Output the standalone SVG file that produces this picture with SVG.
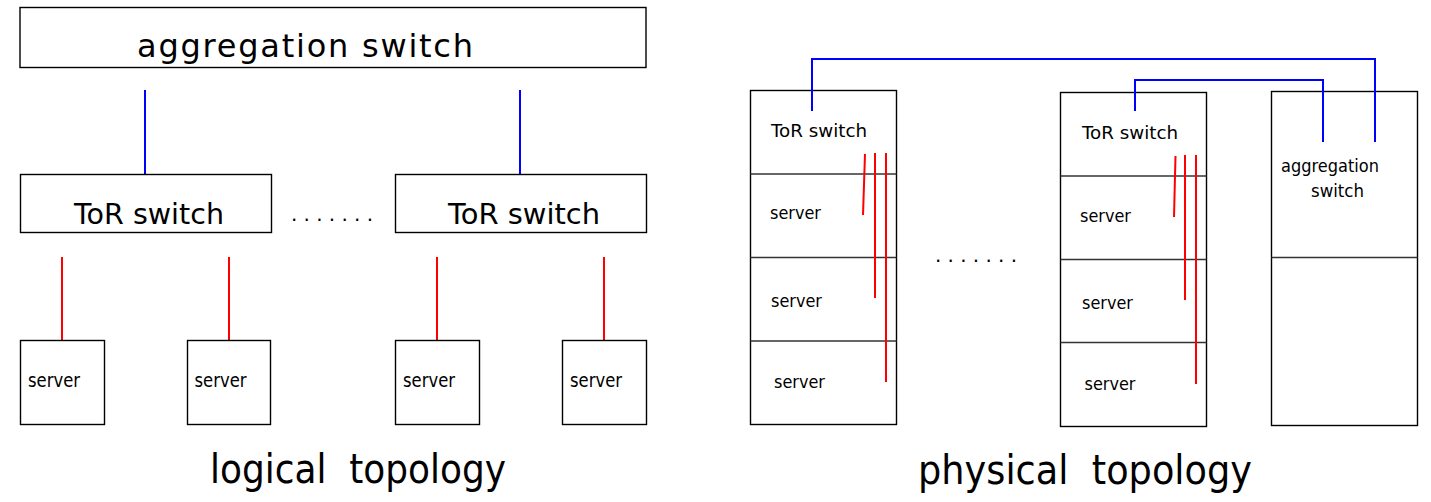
<svg xmlns="http://www.w3.org/2000/svg" width="1431" height="502" viewBox="0 0 1431 502">
<style>
.box{fill:#fff;stroke:#000;stroke-width:1.4}
.div{stroke:#333;stroke-width:1.6;fill:none}
.t{font-family:"DejaVu Sans","Liberation Sans",sans-serif;fill:#000}
.blue{stroke:#0000ff;stroke-width:2;fill:none}
.red{stroke:#ff0000;stroke-width:2;fill:none}
</style>
<rect width="1431" height="502" fill="#fff"/>
<g id="connectors">
<line class="blue" x1="145" y1="90" x2="145" y2="174"/>
<line class="blue" x1="520" y1="90" x2="520" y2="174"/>
<line class="red" x1="62" y1="257" x2="62" y2="340"/>
<line class="red" x1="229" y1="257" x2="229" y2="340"/>
<line class="red" x1="437" y1="257" x2="437" y2="340"/>
<line class="red" x1="604" y1="257" x2="604" y2="340"/>
</g>
<g id="logical-aggregation-switch">
<rect class="box" x="20" y="7.5" width="626" height="60"/>
<text class="t" x="137" y="57" font-size="32" textLength="336" lengthAdjust="spacing">aggregation switch</text>
</g>
<g id="logical-tor-1">
<rect class="box" x="20.5" y="174.5" width="251" height="58"/>
<text class="t" x="74" y="224" font-size="29" textLength="150" lengthAdjust="spacingAndGlyphs">ToR switch</text>
</g>
<g id="logical-dots">
<text class="t" x="291" y="221" font-size="20" textLength="82" lengthAdjust="spacing">.......</text>
</g>
<g id="logical-tor-2">
<rect class="box" x="395.5" y="174.5" width="251" height="58"/>
<text class="t" x="448" y="224" font-size="29" textLength="152" lengthAdjust="spacingAndGlyphs">ToR switch</text>
</g>
<g id="logical-server-1">
<rect class="box" x="20.5" y="340.5" width="84" height="84"/>
<text class="t" x="28" y="387" font-size="19" textLength="52" lengthAdjust="spacingAndGlyphs">server</text>
</g>
<g id="logical-server-2">
<rect class="box" x="187.5" y="340.5" width="83" height="84"/>
<text class="t" x="194.5" y="387" font-size="19" textLength="52" lengthAdjust="spacingAndGlyphs">server</text>
</g>
<g id="logical-server-3">
<rect class="box" x="395.5" y="340.5" width="84" height="84"/>
<text class="t" x="403" y="387" font-size="19" textLength="52" lengthAdjust="spacingAndGlyphs">server</text>
</g>
<g id="logical-server-4">
<rect class="box" x="562.5" y="340.5" width="84" height="84"/>
<text class="t" x="570" y="387" font-size="19" textLength="52" lengthAdjust="spacingAndGlyphs">server</text>
</g>
<g id="logical-title">
<text class="t" x="210" y="483" font-size="40" textLength="296" lengthAdjust="spacingAndGlyphs" xml:space="preserve">logical  topology</text>
</g>

<g id="rack-1">
<rect class="box" x="750.5" y="90.5" width="146" height="334"/>
<line class="div" x1="750.5" y1="174" x2="896.5" y2="174"/>
<line class="div" x1="750.5" y1="257.5" x2="896.5" y2="257.5"/>
<line class="div" x1="750.5" y1="341" x2="896.5" y2="341"/>
<text class="t" x="771" y="137" font-size="18" textLength="96" lengthAdjust="spacingAndGlyphs">ToR switch</text>
<text class="t" x="770" y="219" font-size="18" textLength="51" lengthAdjust="spacingAndGlyphs">server</text>
<text class="t" x="771" y="307" font-size="18" textLength="51" lengthAdjust="spacingAndGlyphs">server</text>
<text class="t" x="774" y="388" font-size="18" textLength="51" lengthAdjust="spacingAndGlyphs">server</text>
</g>
<g id="physical-dots">
<text class="t" x="935" y="262" font-size="20" textLength="82" lengthAdjust="spacing">.......</text>
</g>
<g id="rack-2">
<rect class="box" x="1060.5" y="92.5" width="146" height="334"/>
<line class="div" x1="1060.5" y1="176" x2="1206.5" y2="176"/>
<line class="div" x1="1060.5" y1="259.5" x2="1206.5" y2="259.5"/>
<line class="div" x1="1060.5" y1="342.5" x2="1206.5" y2="342.5"/>
<text class="t" x="1082" y="139" font-size="18" textLength="96" lengthAdjust="spacingAndGlyphs">ToR switch</text>
<text class="t" x="1080" y="221.5" font-size="18" textLength="51" lengthAdjust="spacingAndGlyphs">server</text>
<text class="t" x="1082" y="309" font-size="18" textLength="51" lengthAdjust="spacingAndGlyphs">server</text>
<text class="t" x="1084.5" y="390" font-size="18" textLength="51" lengthAdjust="spacingAndGlyphs">server</text>
</g>
<g id="rack-3">
<rect class="box" x="1271.5" y="91.5" width="146" height="334"/>
<line class="div" x1="1271.5" y1="257.5" x2="1417.5" y2="257.5"/>
<text class="t" x="1281" y="172" font-size="18" textLength="98" lengthAdjust="spacingAndGlyphs">aggregation</text>
<text class="t" x="1311" y="197" font-size="18" textLength="53" lengthAdjust="spacingAndGlyphs">switch</text>
</g>
<g id="physical-connectors">
<polyline class="blue" points="812,111 812,59 1375,59 1375,142"/>
<polyline class="blue" points="1135,111 1135,80 1323,80 1323,142"/>
<line class="red" x1="865" y1="154" x2="863" y2="215"/>
<line class="red" x1="875" y1="153" x2="875" y2="298"/>
<line class="red" x1="886" y1="153" x2="886" y2="382"/>
<line class="red" x1="1175.5" y1="156" x2="1174" y2="217"/>
<line class="red" x1="1185" y1="155" x2="1185" y2="300"/>
<line class="red" x1="1196" y1="155" x2="1196" y2="384"/>
</g>
<g id="physical-title">
<text class="t" x="918" y="484" font-size="40" textLength="334" lengthAdjust="spacingAndGlyphs" xml:space="preserve">physical  topology</text>
</g>
</svg>
